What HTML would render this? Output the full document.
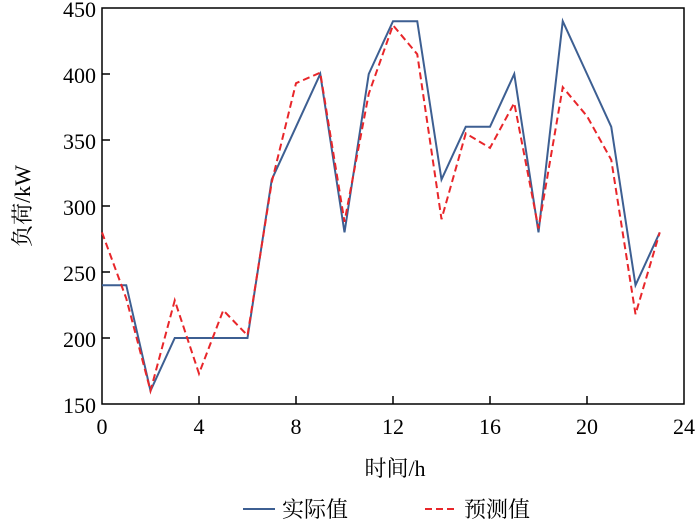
<!DOCTYPE html><html><head><style>body{margin:0;background:#fff}</style></head><body>
<svg width="700" height="526" xmlns="http://www.w3.org/2000/svg" font-family="Liberation Serif, Noto Serif CJK SC, serif" font-size="22">
<rect x="102" y="8" width="582" height="396" fill="none" stroke="#000" stroke-width="1.5"/>
<g stroke="#000" stroke-width="1.5">
<line x1="102" y1="74" x2="110" y2="74"/><line x1="102" y1="140" x2="110" y2="140"/><line x1="102" y1="206" x2="110" y2="206"/><line x1="102" y1="272" x2="110" y2="272"/><line x1="102" y1="338" x2="110" y2="338"/>
<line x1="199" y1="404" x2="199" y2="396"/><line x1="296" y1="404" x2="296" y2="396"/><line x1="393" y1="404" x2="393" y2="396"/><line x1="490" y1="404" x2="490" y2="396"/><line x1="587" y1="404" x2="587" y2="396"/>
</g>
<g text-anchor="end"><text x="96" y="17">450</text><text x="96" y="83">400</text><text x="96" y="149">350</text><text x="96" y="215">300</text><text x="96" y="281">250</text><text x="96" y="347">200</text><text x="96" y="413">150</text></g>
<g text-anchor="middle"><text x="102" y="434">0</text><text x="199" y="434">4</text><text x="296" y="434">8</text><text x="393" y="434">12</text><text x="490" y="434">16</text><text x="587" y="434">20</text><text x="684" y="434">24</text>
<text x="395" y="476">时间/h</text></g>
<text transform="translate(30,206) rotate(-90)" text-anchor="middle">负荷/kW</text>
<polyline fill="none" stroke="#3d5f92" stroke-width="2" points="102,285.2 126.25,285.2 150.5,390.8 174.75,338 199,338 223.25,338 247.5,338 271.75,179.6 296,126.8 320.25,74 344.5,232.4 368.75,74 393,21.2 417.25,21.2 441.5,179.6 465.75,126.8 490,126.8 514.25,74 538.5,232.4 562.75,21.2 587,74 611.25,126.8 635.5,285.2 659.75,232.4"/>
<polyline fill="none" stroke="#e8262a" stroke-width="2" stroke-dasharray="7,4" points="102,232.4 126.25,298.4 150.5,390.8 174.75,300.4 199,373.6 223.25,310.3 247.5,335.4 271.75,182.2 296,83.2 320.25,72.7 344.5,221.8 368.75,93.8 393,25.2 417.25,54.2 441.5,219.2 465.75,133.4 490,147.9 514.25,103 538.5,228.4 562.75,87.2 587,116.2 611.25,159.8 635.5,314.2 659.75,232.4"/>
<line x1="243" y1="509" x2="275" y2="509" stroke="#3d5f92" stroke-width="2"/>
<text x="282" y="517">实际值</text>
<line x1="425" y1="509" x2="457" y2="509" stroke="#e8262a" stroke-width="2" stroke-dasharray="7,4"/>
<text x="464" y="517">预测值</text>
</svg></body></html>
